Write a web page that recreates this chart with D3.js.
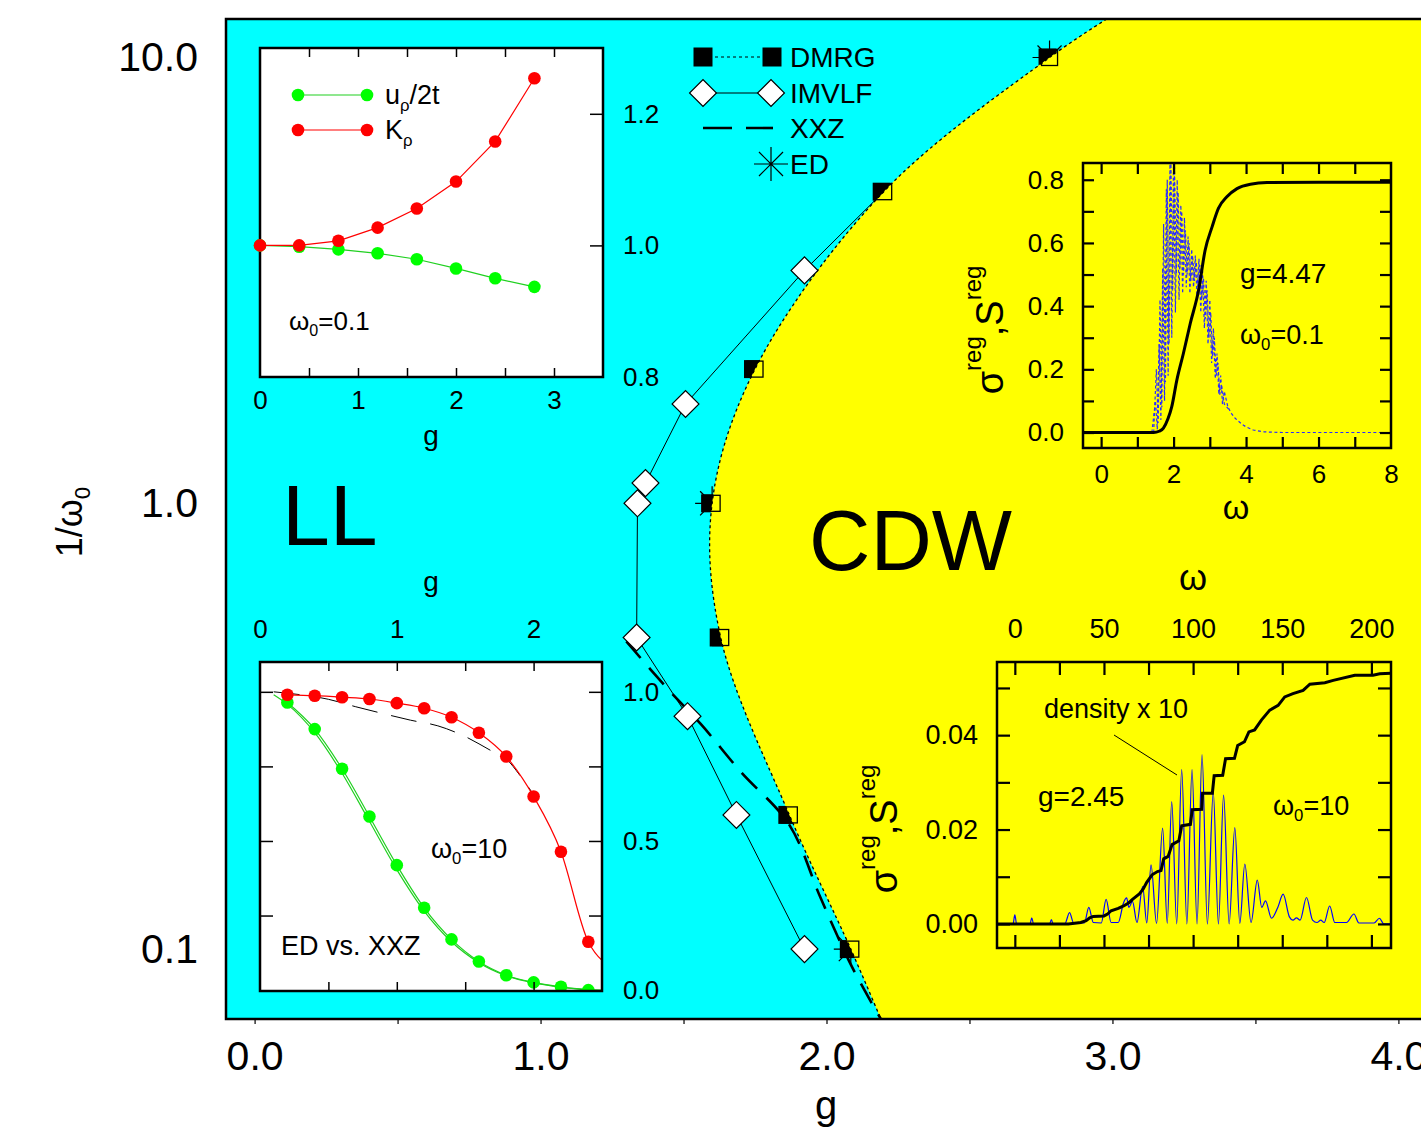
<!DOCTYPE html>
<html lang="en">
<head>
<meta charset="utf-8">
<title>Holstein model phase diagram</title>
<script src="https://cdn.jsdelivr.net/npm/d3@7"></script>
<style>
body { margin: 0; background: #fff; }
text { font-family: "Liberation Sans", Arial, Helvetica, sans-serif; fill: #000; }
</style>
</head>
<body>
<div id="chart"></div>
<script>
// ---------- main diagram data ----------
var gTicks = [0, 1, 2, 3, 4];
var gMinorTicks = [0, 0.5, 1, 1.5, 2, 2.5, 3, 3.5, 4];
var invW0Ticks = [0.1, 1, 10];

var dmrgG = [2.78, 2.20, 1.75, 1.60, 1.63, 1.87, 2.085];
var dmrgInvW0 = [10, 5, 2, 1, 0.5, 0.2, 0.1];

// LL/CDW boundary (edge of the yellow region), top to bottom
var boundaryG = [2.98, 2.78, 2.20, 1.75, 1.60, 1.63, 1.87, 2.085, 2.19];
var boundaryInvW0 = [12.2, 10, 5, 2, 1, 0.5, 0.2, 0.1, 0.0697];

var imvlfG = [2.20, 1.923, 1.507, 1.367, 1.339, 1.336, 1.514, 1.685, 1.923];
var imvlfInvW0 = [5, 3.33, 1.67, 1.11, 1.0, 0.5, 0.333, 0.2, 0.1];

var xxzG = [1.30, 1.45, 1.56, 1.70, 1.87, 1.98, 2.09, 2.19];
var xxzInvW0 = [0.49, 0.38, 0.32, 0.25, 0.19, 0.13, 0.091, 0.0697];

var edG = [2.78, 1.60, 2.085];
var edInvW0 = [10, 1, 0.1];

// ---------- inset 1 : omega0 = 0.1 ----------
var in1G = [0, 0.4, 0.8, 1.2, 1.6, 2.0, 2.4, 2.8];
var in1K = [1.000, 1.000, 1.007, 1.027, 1.056, 1.097, 1.158, 1.254];
var in1U = [1.000, 0.998, 0.994, 0.988, 0.979, 0.965, 0.950, 0.937];
var in1XTicks = [0, 1, 2, 3];
var in1YTicks = [0.8, 1.0, 1.2];

// ---------- inset 2 : ED vs XXZ, omega0 = 10 ----------
var in2G = [0.2, 0.4, 0.6, 0.8, 1.0, 1.2, 1.4, 1.6, 1.8, 2.0, 2.2, 2.4, 2.6];
var in2Red = [0.990, 0.987, 0.982, 0.976, 0.962, 0.945, 0.915, 0.863, 0.783, 0.649, 0.464, 0.162, 0.072];
var in2Green = [0.964, 0.875, 0.742, 0.582, 0.419, 0.276, 0.170, 0.096, 0.050, 0.026, 0.011, 0.000, -0.004];
var xxzGreenG = [0.1, 0.2, 0.4, 0.6, 0.8, 1.0, 1.2, 1.4, 1.6, 1.8, 2.0, 2.2, 2.4, 2.6];
var xxzGreen = [0.990, 0.958, 0.863, 0.727, 0.566, 0.404, 0.265, 0.162, 0.092, 0.048, 0.024, 0.010, 0.002, -0.002];
var xxzBlackG = [0.1, 0.3, 0.5, 0.7, 0.9, 1.1, 1.3, 1.5, 1.7, 1.8, 1.9, 2.0];
var xxzBlack = [1.0, 0.99, 0.975, 0.95, 0.927, 0.905, 0.886, 0.85, 0.80, 0.775, 0.72, 0.655];
var in2XTicks = [0, 1, 2];
var in2YTicks = [0, 0.5, 1.0];

// ---------- inset 3 : g=4.47, omega0=0.1 ----------
var in3Sigma = [[1.40, 0], [1.50, 0.10], [1.55, 0.01], [1.60, 0.28], [1.65, 0.04], [1.70, 0.52], [1.75, 0.10],
  [1.80, 0.77], [1.85, 0.18], [1.90, 0.85], [1.95, 0.30], [2.00, 0.88], [2.05, 0.38], [2.10, 0.80], [2.15, 0.42],
  [2.20, 0.72], [2.25, 0.44], [2.30, 0.68], [2.35, 0.46], [2.40, 0.62], [2.45, 0.44], [2.50, 0.58], [2.55, 0.46],
  [2.60, 0.56], [2.65, 0.42], [2.70, 0.55], [2.75, 0.38], [2.80, 0.51], [2.85, 0.33], [2.90, 0.48], [2.95, 0.28],
  [3.00, 0.42], [3.05, 0.22], [3.10, 0.33], [3.15, 0.17], [3.20, 0.25], [3.25, 0.12], [3.30, 0.18], [3.35, 0.09],
  [3.40, 0.13], [3.50, 0.08], [3.60, 0.06], [3.70, 0.045], [3.80, 0.035], [3.90, 0.025], [4.00, 0.018],
  [4.20, 0.008], [4.50, 0.002], [5.00, 0], [8.00, 0]];
var in3Sigma2 = [[1.45, 0], [1.525, 0.2], [1.575, 0.03], [1.625, 0.42], [1.675, 0.08], [1.725, 0.66], [1.775, 0.16],
  [1.825, 0.80], [1.875, 0.28], [1.925, 0.86], [1.975, 0.45], [2.025, 0.84], [2.075, 0.50], [2.125, 0.76],
  [2.175, 0.52], [2.225, 0.70], [2.275, 0.50], [2.325, 0.64], [2.375, 0.50], [2.425, 0.60], [2.475, 0.48],
  [2.525, 0.56], [2.575, 0.48], [2.625, 0.54], [2.675, 0.46], [2.725, 0.53], [2.775, 0.42], [2.825, 0.49],
  [2.875, 0.36], [2.925, 0.45], [2.975, 0.30], [3.025, 0.38], [3.075, 0.24], [3.125, 0.30], [3.175, 0.18],
  [3.225, 0.22], [3.275, 0.12], [3.325, 0.15], [3.40, 0.09], [3.55, 0.07]];
var in3S = [[-0.5, 0], [1.45, 0], [1.60, 0.004], [1.72, 0.014], [1.85, 0.045], [1.95, 0.082], [2.09, 0.166],
  [2.27, 0.25], [2.46, 0.345], [2.69, 0.45], [2.87, 0.577], [3.06, 0.65], [3.24, 0.71], [3.47, 0.746],
  [3.75, 0.772], [4.12, 0.786], [4.58, 0.791], [6.0, 0.792], [8.0, 0.792]];
var in3XTicks = [0, 2, 4, 6, 8];
var in3YTicks = [0, 0.2, 0.4, 0.6, 0.8];

// ---------- inset 4 : g=2.45, omega0=10 ----------
var in4Sigma = [[-10, 0], [-1, 0], [0, 0.0019], [1, 0], [8.5, 0], [9.5, 0.0013], [10.5, 0], [19.5, 0], [20.5, 0.0009],
  [21.5, 0], [28, 0], [30.7, 0.0024], [33, 0.0002], [39, 0.0002], [41.5, 0.0035], [44, 0.0003], [48.5, 0.0002],
  [51.2, 0.0052], [54, 0.0003], [58, 0.0003], [61, 0.0045], [62.7, 0.0055], [64, 0.0035], [66, 0.0048],
  [68.5, 0.0003], [71.7, 0.0079], [74, 0.0002], [76.4, 0.0125], [79.5, 0.0001], [82.9, 0.0203], [85.5, 0.0001],
  [88, 0.0259], [90.8, 0], [93.6, 0.0327], [96.5, 0], [99.4, 0.0327], [102.2, 0], [105, 0.0359], [108, 0],
  [111.3, 0.028], [114.2, 0], [117.1, 0.0273], [120.2, 0], [123.4, 0.0204], [126.2, 0.0001], [129, 0.0127],
  [132.5, 0.0003], [136, 0.0093], [138.5, 0.0035], [140.6, 0.0049], [144, 0.0012], [147.5, 0.0035],
  [150.5, 0.0063], [154, 0.0015], [156, 0.0008], [158, 0.0013], [160, 0.0008], [163.6, 0.0056], [167, 0.0008],
  [169.5, 0.0003], [171.6, 0.0008], [173.5, 0.0003], [176.6, 0.0038], [179.5, 0.0003], [186, 0.0003],
  [190.2, 0.0021], [193, 0.0002], [201.5, 0.0002], [204.5, 0.0012], [207, 0], [211, 0]];
var in4S = [[-10, 0], [30, 0], [37, 0.0003], [40, 0.0007], [42, 0.0013], [44, 0.0016], [50, 0.0017], [52, 0.0021],
  [54, 0.0028], [58, 0.0033], [61, 0.0038], [64, 0.0045], [66, 0.0052], [70, 0.0064], [72, 0.0074], [74, 0.0088],
  [77, 0.0104], [80, 0.0111], [82, 0.0113], [83.5, 0.0138], [86, 0.0143], [88.2, 0.0168], [92, 0.0176],
  [93.6, 0.0208], [98.5, 0.0211], [99.5, 0.0242], [104.8, 0.0243], [105.3, 0.0277], [110.8, 0.0277],
  [111.8, 0.0314], [116.6, 0.0315], [118.2, 0.035], [123.2, 0.0351], [125, 0.0378], [128.8, 0.0386],
  [131.3, 0.0407], [134.5, 0.0411], [138.3, 0.0432], [143, 0.0453], [147.7, 0.0463], [151.4, 0.0481],
  [156, 0.0488], [161.7, 0.0495], [165.5, 0.0508], [173.9, 0.0511], [178.6, 0.0516], [190.7, 0.0527],
  [200.9, 0.0527], [204.7, 0.053], [211, 0.0531]];
var in4XTicks = [0, 50, 100, 150, 200];
var in4YTicks = [0, 0.02, 0.04];

var CYAN = "#00ffff", YELLOW = "#ffff00", RED = "#ff0000", GREEN = "#00ff00", GREENLINE = "#20d020";

var svg = d3.select("#chart").append("svg")
  .attr("width", 1421)
  .attr("height", 1132);
svg.append("rect").attr("width", 1421).attr("height", 1132).attr("fill", "#fff");

//Scales of the big plot
var x = d3.scaleLinear().domain([-0.1, 4.1]).range([226, 1427]);
var y = d3.scaleLog().domain([0.0697, 12.2]).range([1019, 19]);

function starPath(r) {
  var a = r * Math.SQRT1_2;
  return "M" + (-r) + ",0L" + r + ",0M0," + (-r) + "L0," + r +
    "M" + (-a) + "," + (-a) + "L" + a + "," + a + "M" + (-a) + "," + a + "L" + a + "," + (-a);
}
function noDomain(s) { s.select(".domain").remove(); }
function ticks(parent, axis, transform, width) {
  parent.append("g").attr("transform", transform).call(axis.tickFormat(""))
    .call(noDomain)
    .selectAll("line").attr("stroke-width", width || 1.5);
}
function labels(parent, axis, transform, size) {
  var g = parent.append("g").attr("transform", transform).call(axis.tickSize(0)).call(noDomain);
  g.selectAll("text").style("font-size", size + "px").style("font-family", "'Liberation Sans', Arial, sans-serif");
  return g;
}
function sub(textSel, main, s, rest, shift) {
  textSel.append("tspan").text(main);
  textSel.append("tspan").attr("dy", shift).style("font-size", "0.62em").text(s);
  if (rest) textSel.append("tspan").attr("dy", -shift).text(rest);
}

svg.append("clipPath").attr("id", "mainClip").append("rect")
  .attr("x", 226).attr("y", 19).attr("width", 1201).attr("height", 1000);

var plot = svg.append("g").attr("clip-path", "url(#mainClip)");
plot.append("rect").attr("x", 226).attr("y", 19).attr("width", 1201).attr("height", 1000).attr("fill", CYAN);

//ED stars and DMRG squares lie under the CDW region
plot.selectAll(".ed").data(d3.zip(edG, edInvW0)).enter().append("path")
  .attr("transform", function(d) { return "translate(" + x(d[0]) + "," + y(d[1]) + ")"; })
  .attr("d", starPath(17))
  .attr("stroke", "#000").attr("stroke-width", 1.2);

plot.selectAll(".dmrgFill").data(d3.zip(dmrgG, dmrgInvW0)).enter().append("rect")
  .attr("x", function(d) { return x(d[0]) - 11; })
  .attr("y", function(d) { return y(d[1]) - 9; })
  .attr("width", 18).attr("height", 18).attr("fill", "#000");

var boundaryLine = d3.line()
  .x(function(d) { return x(d[0]); })
  .y(function(d) { return y(d[1]); })
  .curve(d3.curveCatmullRom.alpha(0.5));
var bPath = boundaryLine(d3.zip(boundaryG, boundaryInvW0));

plot.append("path")
  .attr("d", bPath + "L" + x(4.2) + "," + y.range()[0] + "L" + x(4.2) + "," + y.range()[1] + "Z")
  .attr("fill", YELLOW);

plot.append("path").attr("d", bPath)
  .attr("fill", "none").attr("stroke", "#000").attr("stroke-width", 1.3).attr("stroke-dasharray", "3,3");

plot.selectAll(".dmrgOpen").data(d3.zip(dmrgG, dmrgInvW0)).enter().append("rect")
  .attr("x", function(d) { return x(d[0]) - 8; })
  .attr("y", function(d) { return y(d[1]) - 8; })
  .attr("width", 16).attr("height", 16)
  .attr("fill", "none").attr("stroke", "#000").attr("stroke-width", 1.3);

//XXZ
plot.append("path").attr("d", boundaryLine(d3.zip(xxzG, xxzInvW0)))
  .attr("fill", "none").attr("stroke", "#000").attr("stroke-width", 2.6).attr("stroke-dasharray", "22,13");

//IMVLF
var imvlf = d3.zip(imvlfG, imvlfInvW0);
plot.append("path")
  .attr("d", d3.line().x(function(d) { return x(d[0]); }).y(function(d) { return y(d[1]); })(imvlf))
  .attr("fill", "none").attr("stroke", "#000").attr("stroke-width", 1);
plot.selectAll(".imvlf").data(imvlf.slice(1)).enter().append("rect")
  .attr("x", -9.5).attr("y", -9.5).attr("width", 19).attr("height", 19)
  .attr("transform", function(d) { return "translate(" + x(d[0]) + "," + y(d[1]) + ") rotate(45)"; })
  .attr("fill", "#fff").attr("stroke", "#000").attr("stroke-width", 1.2);

svg.append("rect").attr("x", 226).attr("y", 19).attr("width", 1230).attr("height", 1000)
  .attr("fill", "none").attr("stroke", "#000").attr("stroke-width", 2.5);

//main axes
ticks(svg, d3.axisBottom(x).tickValues(gMinorTicks).tickSize(5), "translate(0,1019)", 1.2);
labels(svg, d3.axisBottom(x).tickValues(gTicks).tickPadding(22).tickFormat(d3.format(".1f")), "translate(0,1019)", 41);
labels(svg, d3.axisLeft(y).tickValues(invW0Ticks).tickPadding(28).tickFormat(d3.format(".1f")), "translate(226,0)", 41);

svg.append("text").attr("x", 826).attr("y", 1119).attr("text-anchor", "middle").style("font-size", "40px").text("g");
var yl = svg.append("text").attr("transform", "translate(82,522) rotate(-90)").attr("text-anchor", "middle").style("font-size", "36px");
sub(yl, "1/ω", "0", null, 8);

svg.append("text").attr("x", 282).attr("y", 545).style("font-size", "86px").text("LL");
svg.append("text").attr("x", 809).attr("y", 570).style("font-size", "85px").text("CDW");

//legend
var lg = svg.append("g");
lg.append("line").attr("x1", 703).attr("x2", 772).attr("y1", 57).attr("y2", 57)
  .attr("stroke", "#000").attr("stroke-width", 1).attr("stroke-dasharray", "3,3");
[703, 772].forEach(function(cx) {
  lg.append("rect").attr("x", cx - 9.5).attr("y", 47.5).attr("width", 19).attr("height", 19).attr("fill", "#000");
});
lg.append("line").attr("x1", 703).attr("x2", 771).attr("y1", 93).attr("y2", 93).attr("stroke", "#000");
[703, 771].forEach(function(cx) {
  lg.append("rect").attr("x", -9.5).attr("y", -9.5).attr("width", 19).attr("height", 19)
    .attr("transform", "translate(" + cx + ",93) rotate(45)")
    .attr("fill", "#fff").attr("stroke", "#000").attr("stroke-width", 1.2);
});
lg.append("line").attr("x1", 703).attr("x2", 773).attr("y1", 128).attr("y2", 128)
  .attr("stroke", "#000").attr("stroke-width", 2.6).attr("stroke-dasharray", "29,14");
lg.append("path").attr("transform", "translate(771,164)").attr("d", starPath(17))
  .attr("stroke", "#000").attr("stroke-width", 1.2);
["DMRG", "IMVLF", "XXZ", "ED"].forEach(function(t, i) {
  lg.append("text").attr("x", 790).attr("y", [67, 103, 138, 174][i]).style("font-size", "28px").text(t);
});

// ================= inset 1 =================
var xs1 = d3.scaleLinear().domain([0, 3.5]).range([260, 603]);
var ys1 = d3.scaleLinear().domain([0.8, 1.3]).range([377, 48]);
var i1 = svg.append("g");
i1.append("rect").attr("x", 260).attr("y", 48).attr("width", 343).attr("height", 329)
  .attr("fill", "#fff").attr("stroke", "#000").attr("stroke-width", 2.5);
ticks(i1, d3.axisBottom(xs1).tickValues([0.5, 1, 1.5, 2, 2.5, 3]).tickSize(-9), "translate(0,377)");
ticks(i1, d3.axisTop(xs1).tickValues([0.5, 1, 1.5, 2, 2.5, 3]).tickSize(-9), "translate(0,48)");
ticks(i1, d3.axisRight(ys1).tickValues([1.0, 1.2]).tickSize(-13), "translate(603,0)");
labels(i1, d3.axisBottom(xs1).tickValues(in1XTicks).tickPadding(14).tickFormat(d3.format("d")), "translate(0,377)", 26);
labels(i1, d3.axisRight(ys1).tickValues(in1YTicks).tickPadding(20).tickFormat(d3.format(".1f")), "translate(603,0)", 26);
i1.append("text").attr("x", 431).attr("y", 445).attr("text-anchor", "middle").style("font-size", "28px").text("g");

var line1 = d3.line().x(function(d) { return xs1(d[0]); }).y(function(d) { return ys1(d[1]); });
[[in1U, GREENLINE, GREEN], [in1K, RED, RED]].forEach(function(s) {
  var pts = d3.zip(in1G, s[0]);
  i1.append("path").attr("d", line1(pts)).attr("fill", "none").attr("stroke", s[1]).attr("stroke-width", 1.2);
  i1.selectAll(null).data(pts).enter().append("circle")
    .attr("cx", function(d) { return xs1(d[0]); }).attr("cy", function(d) { return ys1(d[1]); })
    .attr("r", 6.3).attr("fill", s[2]);
});
[[95, GREENLINE, GREEN], [130, RED, RED]].forEach(function(s) {
  i1.append("line").attr("x1", 298).attr("x2", 367).attr("y1", s[0]).attr("y2", s[0]).attr("stroke", s[1]).attr("stroke-width", 1.2);
  i1.append("circle").attr("cx", 298).attr("cy", s[0]).attr("r", 6.3).attr("fill", s[2]);
  i1.append("circle").attr("cx", 367).attr("cy", s[0]).attr("r", 6.3).attr("fill", s[2]);
});
sub(i1.append("text").attr("x", 385).attr("y", 104).style("font-size", "27px"), "u", "ρ", "/2t", 7);
sub(i1.append("text").attr("x", 385).attr("y", 139).style("font-size", "27px"), "K", "ρ", null, 7);
sub(i1.append("text").attr("x", 289).attr("y", 330).style("font-size", "26px"), "ω", "0", "=0.1", 6);

// ================= inset 2 =================
var xs2 = d3.scaleLinear().domain([0, 2.5]).range([260, 602]);
var ys2 = d3.scaleLinear().domain([-0.003, 1.1]).range([991, 662]);
var i2 = svg.append("g");
i2.append("rect").attr("x", 260).attr("y", 662).attr("width", 342).attr("height", 329).attr("fill", "#fff");
svg.append("clipPath").attr("id", "clip2").append("rect").attr("x", 260).attr("y", 662).attr("width", 342).attr("height", 329);
var d2 = i2.append("g").attr("clip-path", "url(#clip2)");
var line2 = d3.line().x(function(d) { return xs2(d[0]); }).y(function(d) { return ys2(d[1]); }).curve(d3.curveMonotoneX);
d2.append("path").attr("d", line2(d3.zip(xxzBlackG, xxzBlack)))
  .attr("fill", "none").attr("stroke", "#000").attr("stroke-width", 1).attr("stroke-dasharray", "26,14");
d2.append("path").attr("d", line2(d3.zip(xxzGreenG, xxzGreen)))
  .attr("fill", "none").attr("stroke", GREENLINE).attr("stroke-width", 1.2);
[[in2Green, GREENLINE, GREEN], [in2Red, RED, RED]].forEach(function(s) {
  var pts = d3.zip(in2G, s[0]);
  d2.append("path").attr("d", line2(pts)).attr("fill", "none").attr("stroke", s[1]).attr("stroke-width", 1.2);
  d2.selectAll(null).data(pts).enter().append("circle")
    .attr("cx", function(d) { return xs2(d[0]); }).attr("cy", function(d) { return ys2(d[1]); })
    .attr("r", 6.3).attr("fill", s[2]);
});
i2.append("rect").attr("x", 260).attr("y", 662).attr("width", 342).attr("height", 329)
  .attr("fill", "none").attr("stroke", "#000").attr("stroke-width", 2.5);
ticks(i2, d3.axisTop(xs2).tickValues([0.5, 1, 1.5, 2]).tickSize(-9), "translate(0,662)");
ticks(i2, d3.axisBottom(xs2).tickValues([0.5, 1, 1.5, 2]).tickSize(-9), "translate(0,991)");
ticks(i2, d3.axisLeft(ys2).tickValues([0.25, 0.5, 0.75, 1.0]).tickSize(-13), "translate(260,0)");
ticks(i2, d3.axisRight(ys2).tickValues([0.25, 0.5, 0.75, 1.0]).tickSize(-13), "translate(602,0)");
labels(i2, d3.axisTop(xs2).tickValues(in2XTicks).tickPadding(24).tickFormat(d3.format("d")), "translate(0,662)", 26);
labels(i2, d3.axisRight(ys2).tickValues(in2YTicks).tickPadding(21).tickFormat(d3.format(".1f")), "translate(602,0)", 26);
i2.append("text").attr("x", 431).attr("y", 591).attr("text-anchor", "middle").style("font-size", "28px").text("g");
sub(i2.append("text").attr("x", 431).attr("y", 858).style("font-size", "27px"), "ω", "0", "=10", 6);
i2.append("text").attr("x", 281).attr("y", 955).style("font-size", "27px").text("ED vs. XXZ");

// rotated sigma^reg, S^reg label
function sigmaLabel(tx, ty) {
  var t = svg.append("text").attr("transform", "translate(" + tx + "," + ty + ") rotate(-90)")
    .attr("text-anchor", "middle").style("font-size", "38px");
  t.append("tspan").text("σ");
  t.append("tspan").attr("dy", -22).style("font-size", "24px").text("reg");
  t.append("tspan").attr("dy", 22).text(",S");
  t.append("tspan").attr("dy", -22).style("font-size", "24px").text("reg");
}

// ================= inset 3 =================
var xs3 = d3.scaleLinear().domain([-0.5, 8]).range([1083, 1391]);
var ys3 = d3.scaleLinear().domain([-0.049, 0.853]).range([448, 163]);
var i3 = svg.append("g");
svg.append("clipPath").attr("id", "clip3").append("rect").attr("x", 1083).attr("y", 163).attr("width", 308).attr("height", 285);
var d3g = i3.append("g").attr("clip-path", "url(#clip3)");
var line3 = d3.line().x(function(d) { return xs3(d[0]); }).y(function(d) { return ys3(d[1]); });
[in3Sigma, in3Sigma2].forEach(function(s) {
  d3g.append("path").attr("d", line3(s))
    .attr("fill", "none").attr("stroke", "#2a2aff").attr("stroke-width", 1.2).attr("stroke-dasharray", "3,2.5");
});
d3g.append("path").attr("d", line3.curve(d3.curveMonotoneX)(in3S))
  .attr("fill", "none").attr("stroke", "#000").attr("stroke-width", 3);
i3.append("rect").attr("x", 1083).attr("y", 163).attr("width", 308).attr("height", 285)
  .attr("fill", "none").attr("stroke", "#000").attr("stroke-width", 2.5);
ticks(i3, d3.axisBottom(xs3).tickValues([0, 1, 2, 3, 4, 5, 6, 7]).tickSize(-11), "translate(0,448)", 2.2);
ticks(i3, d3.axisTop(xs3).tickValues([0, 1, 2, 3, 4, 5, 6, 7]).tickSize(-11), "translate(0,163)", 2.2);
ticks(i3, d3.axisLeft(ys3).tickValues([0, 0.1, 0.2, 0.3, 0.4, 0.5, 0.6, 0.7, 0.8]).tickSize(-11), "translate(1083,0)", 2.2);
ticks(i3, d3.axisRight(ys3).tickValues([0, 0.1, 0.2, 0.3, 0.4, 0.5, 0.6, 0.7, 0.8]).tickSize(-11), "translate(1391,0)", 2.2);
labels(i3, d3.axisBottom(xs3).tickValues(in3XTicks).tickPadding(17).tickFormat(d3.format("d")), "translate(0,448)", 26);
labels(i3, d3.axisLeft(ys3).tickValues(in3YTicks).tickPadding(19).tickFormat(d3.format(".1f")), "translate(1083,0)", 26);
i3.append("text").attr("x", 1236).attr("y", 519).attr("text-anchor", "middle").style("font-size", "34px").text("ω");
i3.append("text").attr("x", 1240).attr("y", 283).style("font-size", "28px").text("g=4.47");
sub(i3.append("text").attr("x", 1240).attr("y", 344).style("font-size", "27px"), "ω", "0", "=0.1", 6);
sigmaLabel(1003, 330);

// ================= inset 4 =================
var xs4 = d3.scaleLinear().domain([-10, 211]).range([997, 1391]);
var ys4 = d3.scaleLinear().domain([-0.0051, 0.0555]).range([948, 662]);
var i4 = svg.append("g");
svg.append("clipPath").attr("id", "clip4").append("rect").attr("x", 997).attr("y", 662).attr("width", 394).attr("height", 286);
var d4 = i4.append("g").attr("clip-path", "url(#clip4)");
var line4 = d3.line().x(function(d) { return xs4(d[0]); }).y(function(d) { return ys4(d[1]); });
d4.append("path").attr("d", line4.curve(d3.curveMonotoneX)(in4Sigma))
  .attr("fill", "none").attr("stroke", "#0000ff").attr("stroke-width", 1.2);
d4.append("path").attr("d", line4.curve(d3.curveLinear)(in4S))
  .attr("fill", "none").attr("stroke", "#000").attr("stroke-width", 3);
i4.append("rect").attr("x", 997).attr("y", 662).attr("width", 394).attr("height", 286)
  .attr("fill", "none").attr("stroke", "#000").attr("stroke-width", 2.5);
var x4Minor = [0, 25, 50, 75, 100, 125, 150, 175, 200];
var y4Minor = [0, 0.01, 0.02, 0.03, 0.04, 0.05];
ticks(i4, d3.axisBottom(xs4).tickValues(x4Minor).tickSize(-13), "translate(0,948)", 2.2);
ticks(i4, d3.axisTop(xs4).tickValues(x4Minor).tickSize(-13), "translate(0,662)", 2.2);
ticks(i4, d3.axisLeft(ys4).tickValues(y4Minor).tickSize(-13), "translate(997,0)", 2.2);
ticks(i4, d3.axisRight(ys4).tickValues(y4Minor).tickSize(-13), "translate(1391,0)", 2.2);
labels(i4, d3.axisTop(xs4).tickValues(in4XTicks).tickPadding(24).tickFormat(d3.format("d")), "translate(0,662)", 27);
labels(i4, d3.axisLeft(ys4).tickValues(in4YTicks).tickPadding(19).tickFormat(d3.format(".2f")), "translate(997,0)", 27);
i4.append("text").attr("x", 1193).attr("y", 590).attr("text-anchor", "middle").style("font-size", "36px").text("ω");
i4.append("text").attr("x", 1044).attr("y", 718).style("font-size", "27px").text("density x 10");
i4.append("line").attr("x1", 1114).attr("y1", 735).attr("x2", 1177).attr("y2", 775).attr("stroke", "#000").attr("stroke-width", 1);
i4.append("text").attr("x", 1038).attr("y", 806).style("font-size", "28px").text("g=2.45");
sub(i4.append("text").attr("x", 1273).attr("y", 815).style("font-size", "27px"), "ω", "0", "=10", 6);
sigmaLabel(897, 829);
</script>
</body>
</html>
